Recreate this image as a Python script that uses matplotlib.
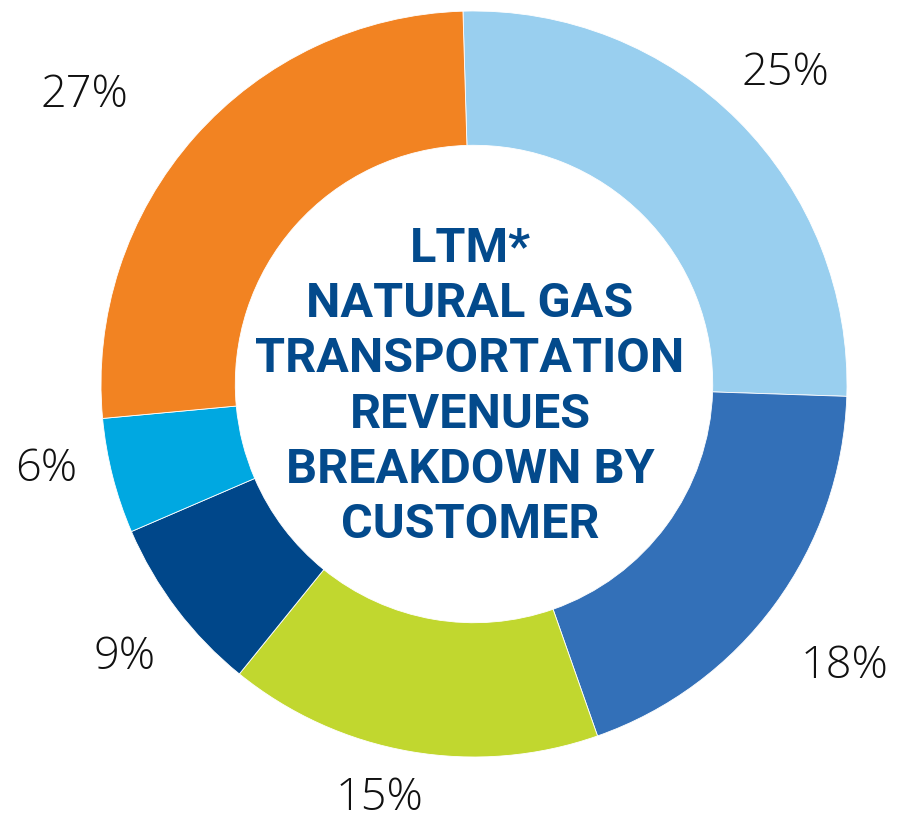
import matplotlib
matplotlib.use("Agg")
import matplotlib.pyplot as plt
import numpy as np

# Slice sizes (clockwise from top)
slice_sizes = [26.0, 19.1, 16.2, 7.7, 5.0, 26.0]
# Printed labels
label_texts = ["25%", "18%", "15%", "9%", "6%", "27%"]
colors = ["#99CFEF", "#3370B8", "#C1D72F", "#00478A", "#00A8E1", "#F28322"]
center_title = "LTM*\nNATURAL GAS\nTRANSPORTATION\nREVENUES\nBREAKDOWN BY\nCUSTOMER"

W, H = 921, 836
fig = plt.figure(figsize=(W / 100, H / 100), dpi=100)
ax = fig.add_axes([0, 0, 1, 1])

cx, cy, R = 474, H - 384, 373
wedges, _ = ax.pie(slice_sizes, colors=colors, startangle=91.7, counterclock=False,
                   center=(cx, cy), radius=R, frame=True,
                   wedgeprops=dict(width=R * 0.36, edgecolor="white", linewidth=0.6))
ax.set_xlim(0, W)
ax.set_ylim(0, H)
ax.set_aspect("equal")
ax.axis("off")

label_dist = [1.18, 1.25, 1.14, 1.19, 1.17, 1.30]
label_shift = [0, -1, -3, 1, -3, 5]
for w, txt, d, s in zip(wedges, label_texts, label_dist, label_shift):
    ang = np.deg2rad((w.theta1 + w.theta2) / 2 + s)
    x = cx + d * R * np.cos(ang)
    y = cy + d * R * np.sin(ang)
    ax.text(x, y, txt, ha="center", va="center", fontsize=32.5,
            family="Open Sans", fontweight="light", color="#111111")

ax.text(cx - 4, cy - 3, center_title, ha="center", va="center", fontsize=35,
        family="Roboto", fontweight="bold", color="#034A8C", linespacing=1.26)

fig.savefig("out.png", dpi=100)
